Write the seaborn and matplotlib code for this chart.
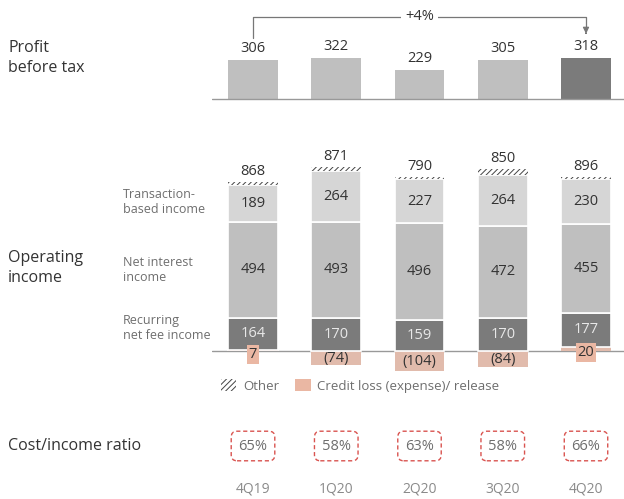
import matplotlib.pyplot as plt
import seaborn as sns
from matplotlib.patches import Patch

# Quarterly figures (USD m)
quarters = ['4Q19', '1Q20', '2Q20', '3Q20', '4Q20']
profit = [306, 322, 229, 305, 318]
transaction = [189, 264, 227, 264, 230]
net_interest = [494, 493, 496, 472, 455]
recurring = [164, 170, 159, 170, 177]
credit = [7, -74, -104, -84, 20]
other = [14, 18, 12, 28, 14]
op_total = [868, 871, 790, 850, 896]
cost_income = ['65%', '58%', '63%', '58%', '66%']

C_LIGHT = '#d6d6d6'
C_MID = '#bfbfbf'
C_DARK = '#7b7b7b'
C_SALMON = '#eab7a3'
C_TEXT = '#333333'
C_GREY = '#6e6e6e'

sns.set_theme(style='white')
plt.rcParams['font.family'] = ['Open Sans', 'DejaVu Sans']
plt.rcParams['hatch.linewidth'] = 0.7

W, H = 624, 499
fig = plt.figure(figsize=(6.24, 4.99), dpi=100)


def ax_at(x0, y0, x1, y1):
    # box in pixels, origin top-left
    ax = fig.add_axes([x0 / W, 1 - y1 / H, (x1 - x0) / W, (y1 - y0) / H])
    return ax


def ftext(x, y, s, **kw):
    fig.text(x / W, 1 - y / H, s, **kw)


step = 83.25
xlim = ((212 - 253) / step, (624 - 253) / step)
bw = 0.6
fs = 10.5

# ---------------- profit before tax ----------------
k1 = 306 / 39.0  # units per pixel
ax1 = ax_at(212, 5, 624, 101)
sns.barplot(x=quarters, y=profit, hue=quarters,
            palette=[C_MID] * 4 + [C_DARK], legend=False,
            width=bw, linewidth=0, ax=ax1)
ax1.set_xlim(*xlim)
ax1.set_ylim(-2 * k1, 94 * k1)
ax1.axhline(0, color='#999999', lw=1)
for i, v in enumerate(profit):
    ax1.text(i, v + 4 * k1, str(v), ha='center', va='bottom',
             fontsize=fs, color=C_TEXT)
y_top = 82 * k1
chg = round((profit[-1] / profit[0] - 1) * 100)
ax1.plot([0, 0, 4, 4], [profit[0] + 22 * k1, y_top, y_top, profit[-1] + 27 * k1],
         color='#777777', lw=0.9)
ax1.annotate('', xy=(4, profit[-1] + 22 * k1), xytext=(4, profit[-1] + 28 * k1),
             arrowprops=dict(arrowstyle='-|>', color='#777777', lw=0.9,
                             mutation_scale=9))
ax1.text(2, y_top, f'+{chg}%', ha='center', va='center', fontsize=fs,
         color=C_TEXT, bbox=dict(facecolor='white', edgecolor='none', pad=3))
ax1.axis('off')

# ---------------- operating income ----------------
k2 = 868 / 169.0
ax2 = ax_at(212, 150, 624, 380)
pos_credit = [max(c, 0) for c in credit]
b_rec = pos_credit
b_ni = [a + b for a, b in zip(b_rec, recurring)]
b_tr = [a + b for a, b in zip(b_ni, net_interest)]
b_ot = [a + b for a, b in zip(b_tr, transaction)]
top = [a + b for a, b in zip(b_ot, other)]

seg = dict(width=bw, edgecolor='white', linewidth=1.2, ax=ax2)
sns.barplot(x=quarters, y=credit, color=C_SALMON, width=bw, linewidth=0, ax=ax2)
sns.barplot(x=quarters, y=recurring, bottom=b_rec, color=C_DARK, **seg)
sns.barplot(x=quarters, y=net_interest, bottom=b_ni, color=C_MID, **seg)
sns.barplot(x=quarters, y=transaction, bottom=b_tr, color=C_LIGHT, **seg)
sns.barplot(x=quarters, y=other, bottom=b_ot, color='white', width=bw,
            edgecolor='#444444', linewidth=0, hatch='//////', ax=ax2)
ax2.set_xlim(*xlim)
ax2.set_ylim(-(380 - 351) * k2, (351 - 150) * k2)
ax2.axhline(0, color='#999999', lw=1, zorder=0.5)

for i in range(len(quarters)):
    ax2.text(i, b_rec[i] + recurring[i] / 2, str(recurring[i]), ha='center',
             va='center', fontsize=fs, color='#e8e8e8')
    ax2.text(i, b_ni[i] + net_interest[i] / 2, str(net_interest[i]), ha='center',
             va='center', fontsize=fs, color=C_TEXT)
    ax2.text(i, b_tr[i] + transaction[i] / 2, str(transaction[i]), ha='center',
             va='center', fontsize=fs, color=C_TEXT)
    ax2.text(i, top[i] + 3 * k2, str(op_total[i]), ha='center', va='bottom',
             fontsize=fs, color=C_TEXT)
    c = credit[i]
    if c < 0:
        ax2.text(i, c / 2, f'({-c})', ha='center', va='center', fontsize=fs,
                 color=C_TEXT)
    else:
        ax2.text(i, c - 5 * k2, str(c), ha='center', va='center', fontsize=fs,
                 color=C_TEXT, bbox=dict(facecolor=C_SALMON, edgecolor='none',
                                         pad=1.5))
ax2.axis('off')

handles = [Patch(facecolor='white', edgecolor='#444444', hatch='//////',
                 linewidth=0, label='Other'),
           Patch(facecolor=C_SALMON, edgecolor='none',
                 label='Credit loss (expense)/ release')]
fig.legend(handles=handles, loc='center left', ncol=2, frameon=False,
           bbox_to_anchor=(214 / W, 1 - 386 / H), fontsize=9.5,
           handlelength=1.2, handleheight=1.0, handletextpad=0.5,
           columnspacing=1.2, borderpad=0, labelcolor=C_GREY)

# ---------------- cost / income ----------------
ax3 = ax_at(212, 415, 624, 499)
ax3.set_xlim(*xlim)
ax3.set_ylim(499, 415)
for i, q in enumerate(quarters):
    ax3.text(i, 446, cost_income[i], ha='center', va='center', fontsize=fs,
             color=C_GREY,
             bbox=dict(boxstyle='round,pad=0.5,rounding_size=0.4',
                       facecolor='white', edgecolor='#d9534f',
                       linestyle=(0, (3, 2)), linewidth=1))
    ax3.text(i, 489, q, ha='center', va='center', fontsize=10, color='#8a8a8a')
ax3.axis('off')

# ---------------- row labels ----------------
ftext(8, 58, 'Profit\nbefore tax', fontsize=11.5, color=C_TEXT, va='center',
      linespacing=1.25)
ftext(8, 268, 'Operating\nincome', fontsize=11.5, color=C_TEXT, va='center',
      linespacing=1.25)
ftext(8, 446, 'Cost/income ratio', fontsize=11.5, color=C_TEXT, va='center')
ftext(123, 202, 'Transaction-\nbased income', fontsize=9, color=C_GREY,
      va='center', linespacing=1.2)
ftext(123, 270, 'Net interest\nincome', fontsize=9, color=C_GREY,
      va='center', linespacing=1.2)
ftext(123, 328, 'Recurring\nnet fee income', fontsize=9, color=C_GREY,
      va='center', linespacing=1.2)

fig.savefig('out.png', dpi=100, facecolor='white')
